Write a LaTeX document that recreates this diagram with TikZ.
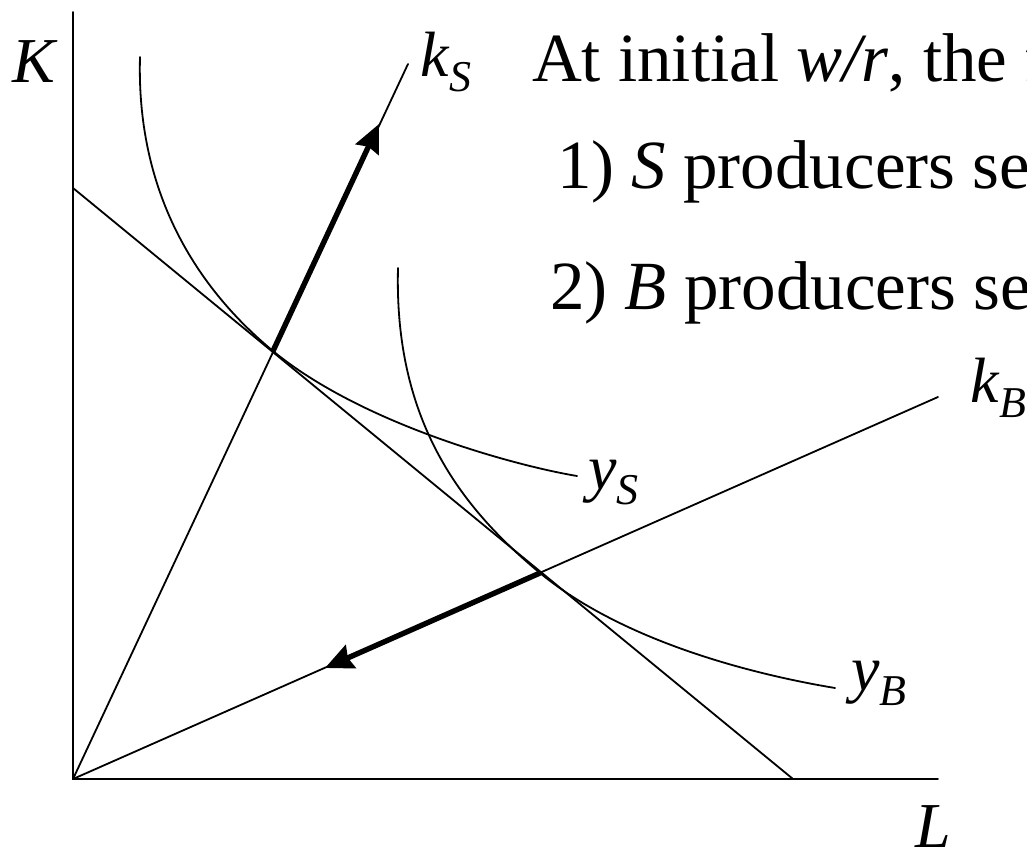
\documentclass[tikz,border=0pt]{standalone}
\usepackage{fontspec}
\setmainfont{Liberation Serif}
\usetikzlibrary{arrows.meta}
\newcommand{\mainsize}{\fontsize{32}{38}\selectfont}
\newcommand{\textsz}{\fontsize{34.5}{40}\selectfont}
\newcommand{\subsize}{\fontsize{22}{24}\selectfont}
\newcommand{\varlab}[2]{\mainsize\textit{#1}\raisebox{-7.5pt}{\subsize\textit{#2}}}
\tikzset{
  thinline/.style={line width=0.9pt, line cap=round},
  movearrow/.style={line width=2.7pt, -{Stealth[length=14pt,width=12.5pt,inset=1.5pt]}},
  lab/.style={anchor=base west, inner sep=0pt, outer sep=0pt},
}
\begin{document}
\begin{tikzpicture}[x=0.5pt,y=-0.5pt]
\useasboundingbox (0,0) rectangle (1027,855);
% key points
\coordinate (O) at (73,779);
\coordinate (Ktop) at (73,12);
\coordinate (Lend) at (938,779);
\coordinate (BudK) at (73,188);
\coordinate (BudL) at (793,779);
\coordinate (TS) at (273,351);
\coordinate (TB) at (540,573);
\coordinate (kSend) at (408,64);
\coordinate (kBend) at (938,397);
\coordinate (aS) at (379,124);
\coordinate (aB) at (325,668);
% axes
\draw[thinline] (Ktop) -- (O) -- (Lend);
% budget line
\draw[thinline] (BudK) -- (BudL);
% rays
\draw[thinline] (O) -- (kSend);
\draw[thinline] (O) -- (kBend);
% isoquants
\draw[thinline] (140,57) .. controls (136,200) and (203,293) .. (TS)
  .. controls (363,425) and (517,466) .. (577,476);
\draw[thinline] (398,268) .. controls (394,420) and (460,507) .. (TB)
  .. controls (620,639) and (745,673) .. (835,688);
% movement arrows
\draw[movearrow] (TS) -- (aS);
\draw[movearrow] (TB) -- (aB);
% labels
\node[lab] (Klab) at (12,83) {\mainsize\textit{K}};
\node[lab] (Llab) at (915,847) {\mainsize\textit{L}};
\node[lab] (kSlab) at (420,77) {\varlab{k}{S}};
\node[lab] (kBlab) at (970,402) {\varlab{k}{B}};
\node[lab] (ySlab) at (588,489) {\varlab{y}{S}};
\node[lab] (yBlab) at (851,690) {\varlab{y}{B}};
% text
\node[lab] (t1) at (532,82) {\textsz At initial \textit{w/r}, the f};
\node[lab] (t2) at (557,189) {\textsz 1) \textit{S} producers se};
\node[lab] (t3) at (550,310) {\textsz 2) \textit{B} producers se};
\end{tikzpicture}
\end{document}
